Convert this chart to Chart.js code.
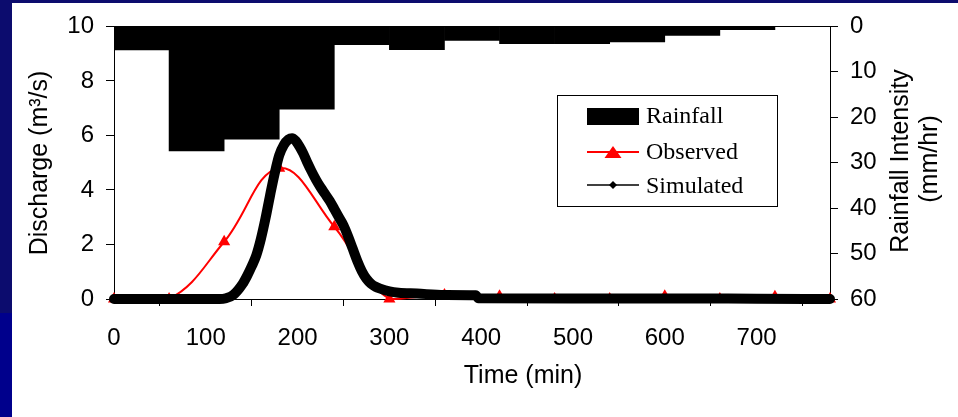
<!DOCTYPE html>
<html>
<head>
<meta charset="utf-8">
<script src="https://cdn.jsdelivr.net/npm/chart.js@4.4.1/dist/chart.umd.min.js"></script>
<style>
  html, body { margin: 0; padding: 0; background: #ffffff; overflow: hidden; }
  #wrap { width: 958px; height: 417px; position: relative; }
</style>
</head>
<body>
<div id="wrap"><canvas id="c" width="958" height="417"></canvas></div>
<script>
// ---- Data ----
const rainIntervalStart = [0, 60, 120, 180, 240, 300, 360, 420, 480, 540, 600, 660, 720]; // min
const rainIntervalLength = 60; // min
const rainfallIntensity = [5.2, 27.4, 24.8, 18.2, 4.0, 5.1, 3.1, 3.8, 3.8, 3.4, 2.0, 0.7, 0]; // mm/hr

const observedTime = [0, 60, 120, 180, 240, 300, 360, 420, 480, 540, 600, 660, 720, 780]; // min
const observedQ    = [0, 0, 2.1, 4.8, 2.65, 0, 0.15, 0.1, 0, 0, 0.1, 0, 0.08, 0]; // m3/s

const simulatedTime = [0, 60, 115, 122, 130, 140, 145, 150, 155, 160, 165, 170, 175, 180, 185, 190, 194, 198, 202, 206, 210, 215, 220, 225, 230, 235, 240, 245, 250, 255, 260, 265, 270, 275, 280, 285, 290, 300, 310, 330, 360, 394, 397, 500, 600, 700, 780];
const simulatedQ    = [0, 0, 0, 0.03, 0.15, 0.55, 0.85, 1.2, 1.6, 2.2, 2.95, 3.8, 4.6, 5.27, 5.65, 5.85, 5.9, 5.8, 5.6, 5.35, 5.05, 4.7, 4.38, 4.1, 3.85, 3.6, 3.3, 3.0, 2.7, 2.3, 1.85, 1.4, 1.02, 0.74, 0.56, 0.45, 0.38, 0.28, 0.23, 0.2, 0.15, 0.14, 0.03, 0.02, 0.02, 0.01, 0];

const xTickStep = 100, xMax = 780;
const qMax = 10, qStep = 2;
const rainMax = 60, rainStep = 10;

const legendLabels = ['Rainfall', 'Observed', 'Simulated'];
const xTitle = 'Time (min)';
const yTitle = 'Discharge (m³/s)';
const y2Title = ['Rainfall Intensity', '(mm/hr)'];

// ---- Build datasets ----
const rainData = rainIntervalStart.map((s, i) => ({ x: s + rainIntervalLength / 2, y: rainfallIntensity[i] }));
const obsData = observedTime.map((t, i) => ({ x: t, y: observedQ[i] }));
const simData = simulatedTime.map((t, i) => ({ x: t, y: simulatedQ[i] }));

const TICK_FONT = { family: "'Liberation Sans', Arial, sans-serif", size: 24 };

const bgPlugin = {
  id: 'bg',
  beforeDraw(chart) {
    const ctx = chart.ctx;
    ctx.save();
    ctx.fillStyle = '#ffffff';
    ctx.fillRect(0, 0, 958, 417);
    ctx.fillStyle = '#0c0c6e';
    ctx.fillRect(0, 0, 958, 3);
    ctx.fillRect(0, 0, 12, 313);
    ctx.fillStyle = '#00008c';
    ctx.fillRect(0, 313, 12, 104);
    ctx.restore();
  }
};

const decoPlugin = {
  id: 'deco',
  afterDatasetsDraw(chart) {
    const ctx = chart.ctx;
    const a = chart.chartArea;
    ctx.save();
    ctx.strokeStyle = '#000000';
    ctx.lineWidth = 1;
    ctx.beginPath();
    ctx.moveTo(a.left, Math.round(a.top) + 0.5);
    ctx.lineTo(a.right, Math.round(a.top) + 0.5);
    ctx.stroke();
    ctx.restore();
  },
  afterDraw(chart) {
    const ctx = chart.ctx;
    ctx.save();
    ctx.fillStyle = '#000000';
    ctx.font = "25px 'Liberation Sans', Arial, sans-serif";
    ctx.textAlign = 'center';
    ctx.textBaseline = 'alphabetic';
    ctx.fillText(xTitle, 523, 383);
    ctx.save();
    ctx.translate(47, 163);
    ctx.rotate(-Math.PI / 2);
    ctx.fillText(yTitle, 0, 0);
    ctx.restore();
    ctx.save();
    ctx.translate(908, 161);
    ctx.rotate(-Math.PI / 2);
    ctx.fillText(y2Title[0], 0, 0);
    ctx.restore();
    ctx.save();
    ctx.translate(937, 159);
    ctx.rotate(-Math.PI / 2);
    ctx.fillText(y2Title[1], 0, 0);
    ctx.restore();

    // legend box
    ctx.fillStyle = '#ffffff';
    ctx.fillRect(557, 95, 221, 112);
    ctx.strokeStyle = '#000000';
    ctx.lineWidth = 1;
    ctx.strokeRect(557.5, 95.5, 220, 111);
    ctx.fillStyle = '#000000';
    ctx.fillRect(587, 108, 52, 17);
    ctx.strokeStyle = '#ff0000';
    ctx.lineWidth = 2;
    ctx.beginPath(); ctx.moveTo(587, 152); ctx.lineTo(639, 152); ctx.stroke();
    ctx.fillStyle = '#ff0000';
    ctx.beginPath(); ctx.moveTo(613, 146); ctx.lineTo(621.5, 158); ctx.lineTo(604.5, 158); ctx.closePath(); ctx.fill();
    ctx.strokeStyle = '#000000';
    ctx.lineWidth = 1.5;
    ctx.beginPath(); ctx.moveTo(587, 185); ctx.lineTo(639, 185); ctx.stroke();
    ctx.fillStyle = '#000000';
    ctx.beginPath(); ctx.moveTo(613, 181); ctx.lineTo(617, 185); ctx.lineTo(613, 189); ctx.lineTo(609, 185); ctx.closePath(); ctx.fill();
    ctx.fillStyle = '#000000';
    ctx.font = "24px 'Liberation Serif', 'Times New Roman', serif";
    ctx.textAlign = 'left';
    ctx.fillText(legendLabels[0], 646, 123);
    ctx.fillText(legendLabels[1], 646, 159);
    ctx.fillText(legendLabels[2], 646, 193);
    ctx.restore();
  }
};

new Chart(document.getElementById('c'), {
  type: 'line',
  data: {
    datasets: [
      {
        type: 'bar',
        label: legendLabels[0],
        data: rainData,
        yAxisID: 'y2',
        backgroundColor: '#000000',
        borderWidth: 0,
        barPercentage: 1.0,
        categoryPercentage: 1.0,
        order: 2
      },
      {
        type: 'line',
        label: legendLabels[1],
        data: obsData,
        yAxisID: 'y',
        borderColor: '#ff0000',
        backgroundColor: '#ff0000',
        borderWidth: 2,
        tension: 0.4,
        pointStyle: 'triangle',
        pointRadius: 7,
        pointBorderWidth: 0,
        pointBackgroundColor: '#ff0000',
        clip: false,
        order: 1
      },
      {
        type: 'line',
        label: legendLabels[2],
        data: simData,
        yAxisID: 'y',
        borderColor: '#000000',
        backgroundColor: '#000000',
        borderWidth: 10,
        borderCapStyle: 'round',
        borderJoinStyle: 'round',
        cubicInterpolationMode: 'monotone',
        pointRadius: 0,
        clip: false,
        order: 0
      }
    ]
  },
  options: {
    animation: false,
    responsive: false,
    devicePixelRatio: 1,
    layout: { padding: { top: 25, left: 0, right: 0, bottom: 0 } },
    plugins: { legend: { display: false }, tooltip: { enabled: false } },
    scales: {
      x: {
        type: 'linear',
        min: 0,
        max: xMax,
        offset: false,
        ticks: { stepSize: xTickStep, includeBounds: false, font: TICK_FONT, color: '#000000', padding: 18, maxRotation: 0 },
        grid: { drawOnChartArea: false, drawTicks: true, tickLength: 7, tickColor: '#000000' },
        border: { color: '#000000', width: 1 },
        afterFit(scale) { scale.height = 118; }
      },
      y: {
        type: 'linear',
        position: 'left',
        min: 0,
        max: qMax,
        ticks: { stepSize: qStep, font: TICK_FONT, color: '#000000', padding: 12 },
        grid: { drawOnChartArea: false, drawTicks: true, tickLength: 8, tickColor: '#000000' },
        border: { color: '#000000', width: 1 },
        afterFit(scale) { scale.width = 114; }
      },
      y2: {
        type: 'linear',
        position: 'right',
        min: 0,
        max: rainMax,
        reverse: true,
        ticks: { stepSize: rainStep, font: TICK_FONT, color: '#000000', padding: 12 },
        grid: { drawOnChartArea: false, drawTicks: true, tickLength: 8, tickColor: '#000000' },
        border: { color: '#000000', width: 1 },
        afterFit(scale) { scale.width = 128; }
      }
    }
  },
  plugins: [bgPlugin, decoPlugin]
});
</script>
</body>
</html>
